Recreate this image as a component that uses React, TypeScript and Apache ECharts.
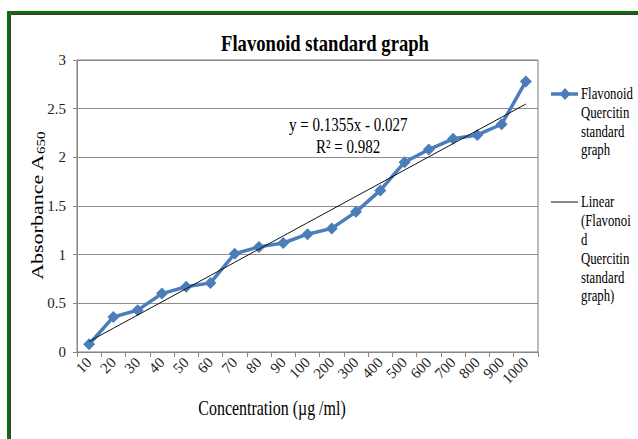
import React, { useEffect, useRef } from "react";
import * as echarts from "echarts";

const categories = ["10", "20", "30", "40", "50", "60", "70", "80", "90", "100", "200", "300", "400", "500", "600", "700", "800", "900", "1000"];
const absorbance = [0.08, 0.36, 0.43, 0.6, 0.67, 0.71, 1.01, 1.08, 1.12, 1.21, 1.27, 1.44, 1.66, 1.95, 2.08, 2.19, 2.23, 2.34, 2.78];
const trendSlope = 0.1355;
const trendIntercept = -0.027;
const yTicks = { min: 0, max: 3, interval: 0.5 };

const seriesName = "Flavonoid Quercitin standard graph";
const trendName = "Linear (Flavonoid Quercitin standard graph)";
const titleText = "Flavonoid standard graph";
const eqText = "y = 0.1355x - 0.027";
const r2Text = "R\u00b2 = 0.982";
const xName = "Concentration (\u00b5g /ml)";

const FONT = "'Liberation Serif', 'Times New Roman', serif";

export default function App() {
  const ref = useRef<HTMLDivElement>(null);
  useEffect(() => {
    document.body.style.margin = "0";
    if (!ref.current) return;
    const chart = echarts.init(ref.current, null, { renderer: "svg" });
    const trend = categories.map((_, i) => +(trendSlope * (i + 1) + trendIntercept).toFixed(4));
    const blue = "#4a7ebb";
    chart.setOption({
      animation: false,
      backgroundColor: "#ffffff",
      grid: {
        left: 77,
        top: 60,
        width: 461,
        height: 292,
        show: true,
        borderColor: "#7a7a7a",
        borderWidth: 1,
      },
      xAxis: {
        type: "category",
        data: categories,
        boundaryGap: true,
        axisLine: { lineStyle: { color: "#868686", width: 1 } },
        axisTick: { show: true, length: 5, lineStyle: { color: "#868686" } },
        axisLabel: { rotate: 45, interval: 0, fontFamily: FONT, fontSize: 15, color: "#222", margin: 8 },
        splitLine: { show: false },
      },
      yAxis: {
        type: "value",
        min: yTicks.min,
        max: yTicks.max,
        interval: yTicks.interval,
        axisLine: { show: true, lineStyle: { color: "#868686", width: 1 } },
        axisTick: { show: true, length: 4, lineStyle: { color: "#868686" } },
        axisLabel: { fontFamily: FONT, fontSize: 15, color: "#222", margin: 11 },
        splitLine: { show: true, lineStyle: { color: "#8c8c8c", width: 1 } },
      },
      series: [
        {
          type: "line",
          name: seriesName,
          data: absorbance,
          symbol: "diamond",
          symbolSize: 12,
          lineStyle: { color: blue, width: 3.5 },
          itemStyle: { color: blue },
          z: 2,
        },
        {
          type: "line",
          name: trendName,
          data: trend,
          symbol: "none",
          lineStyle: { color: "#111", width: 1 },
          z: 3,
        },
      ],
      graphic: [
        { type: "rect", shape: { x: 8.5, y: 12.5, width: 700, height: 500 }, style: { fill: "none", stroke: "#0b6e0b", lineWidth: 3 }, silent: true },
        { type: "rect", shape: { x: 10.5, y: 14.5, width: 700, height: 500 }, style: { fill: "none", stroke: "#3a3a3a", lineWidth: 1 }, silent: true },
        {
          type: "text",
          x: 325,
          y: 43,
          scaleX: 0.81,
          style: { text: titleText, font: `bold 23px ${FONT}`, fill: "#000", textAlign: "center", textVerticalAlign: "middle" },
        },
        {
          type: "text",
          x: 289,
          y: 125,
          scaleX: 0.79,
          style: { text: eqText, font: `19px ${FONT}`, fill: "#000", textAlign: "left", textVerticalAlign: "middle" },
        },
        {
          type: "text",
          x: 316,
          y: 147,
          scaleX: 0.79,
          style: { text: r2Text, font: `19px ${FONT}`, fill: "#000", textAlign: "left", textVerticalAlign: "middle" },
        },
        {
          type: "text",
          x: 272,
          y: 408,
          scaleX: 0.76,
          style: { text: xName, font: `21px ${FONT}`, fill: "#000", textAlign: "center", textVerticalAlign: "middle" },
        },
        {
          type: "text",
          x: 37,
          y: 206,
          rotation: Math.PI / 2,
          scaleY: 0.8,
          style: {
            text: "{a|Absorbance A}{s|650}",
            textAlign: "center",
            textVerticalAlign: "middle",
            rich: {
              a: { fontFamily: FONT, fontSize: 22, lineHeight: 26, fill: "#000" },
              s: { fontFamily: FONT, fontSize: 15, lineHeight: 15, verticalAlign: "bottom", fill: "#000" },
            },
          },
        },
        { type: "line", shape: { x1: 551, y1: 94, x2: 578, y2: 94 }, style: { stroke: blue, lineWidth: 3.5 } },
        { type: "polygon", shape: { points: [[565, 88], [570.5, 94], [565, 100], [559.5, 94]] }, style: { fill: blue } },
        {
          type: "text",
          x: 581,
          y: 84.5,
          scaleX: 0.8,
          style: { text: "Flavonoid\nQuercitin\nstandard\ngraph", font: `16px ${FONT}`, lineHeight: 18.7, fill: "#000", textAlign: "left", textVerticalAlign: "top" },
        },
        { type: "line", shape: { x1: 551, y1: 202, x2: 578, y2: 202 }, style: { stroke: "#111", lineWidth: 1 } },
        {
          type: "text",
          x: 581,
          y: 192.5,
          scaleX: 0.8,
          style: { text: "Linear\n(Flavonoi\nd\nQuercitin\nstandard\ngraph)", font: `16px ${FONT}`, lineHeight: 18.8, fill: "#000", textAlign: "left", textVerticalAlign: "top" },
        },
      ],
    });
    return () => chart.dispose();
  }, []);
  return <div ref={ref} style={{ width: 638, height: 439 }} />;
}
